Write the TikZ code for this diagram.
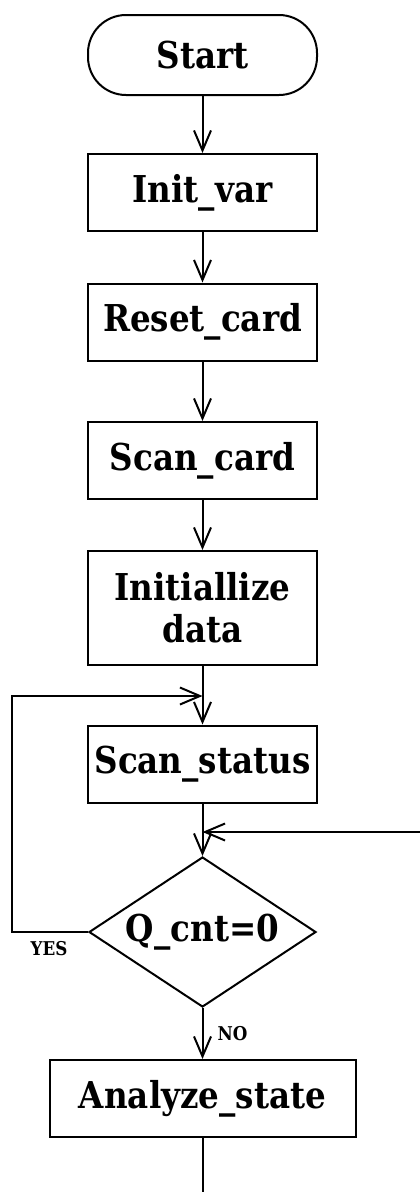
\documentclass[tikz,border=0pt]{standalone}
\usepackage{fontspec}
\setmainfont{DejaVu Serif}[FakeStretch=0.88]
\usetikzlibrary{shapes.geometric,arrows.meta}
\begin{document}
\begin{tikzpicture}[x=1pt,y=-1pt,
  every node/.style={font=\fontsize{37}{42}\selectfont\bfseries},
  proc/.style={draw,line width=2pt,minimum width=229pt,minimum height=77pt,inner sep=0pt,align=center},
  term/.style={proc,rounded corners=38pt,minimum height=80pt},
  dec/.style={draw,diamond,line width=2pt,minimum width=227pt,minimum height=150pt,inner sep=0pt},
  conn/.style={line width=2pt,-{Straight Barb[length=20pt,width=17pt]}},
  plain/.style={line width=2pt},
  small/.style={font=\fontsize{19}{21}\selectfont\bfseries,inner sep=0pt}]
\useasboundingbox (0,0) rectangle (420,1192);
\node[term] (start) at (202.5,55) {Start};
\node[proc] (init) at (202.5,192.5) {Init\_var};
\node[proc] (reset) at (202.5,322) {Reset\_card};
\node[proc] (scan) at (202.5,460.5) {Scan\_card};
\node[proc,minimum height=114pt] (data) at (202.5,608) {Initiallize\\data};
\node[proc] (status) at (202.5,764) {Scan\_status};
\node[dec] (q) at (202.5,932) {\makebox[0pt]{Q\_cnt=0}};
\node[proc,minimum width=306pt] (an) at (202.5,1098.5) {Analyze\_state};
\node[small] (yes) at (49,949) {YES};
\coordinate (j1) at (202.5,696);
\coordinate (j2) at (202.5,832);
\coordinate (L2) at (12,696);
\coordinate (R) at (420,832);
\coordinate (fin) at (202.5,1192);
\draw[conn] (start) -- (init);
\draw[conn] (init) -- (reset);
\draw[conn] (reset) -- (scan);
\draw[conn] (scan) -- (data);
\draw[conn] (data) -- (status);
\draw[conn] (status) -- (q);
\draw[conn] (R) -- (j2);
\draw[conn] (q.west) -| (L2) -- (j1);
\draw[conn] (q.south) -- node[small,anchor=west,xshift=14pt] (no) {NO} (an.north);
\draw[plain] (an) -- (fin);
\end{tikzpicture}
\end{document}
